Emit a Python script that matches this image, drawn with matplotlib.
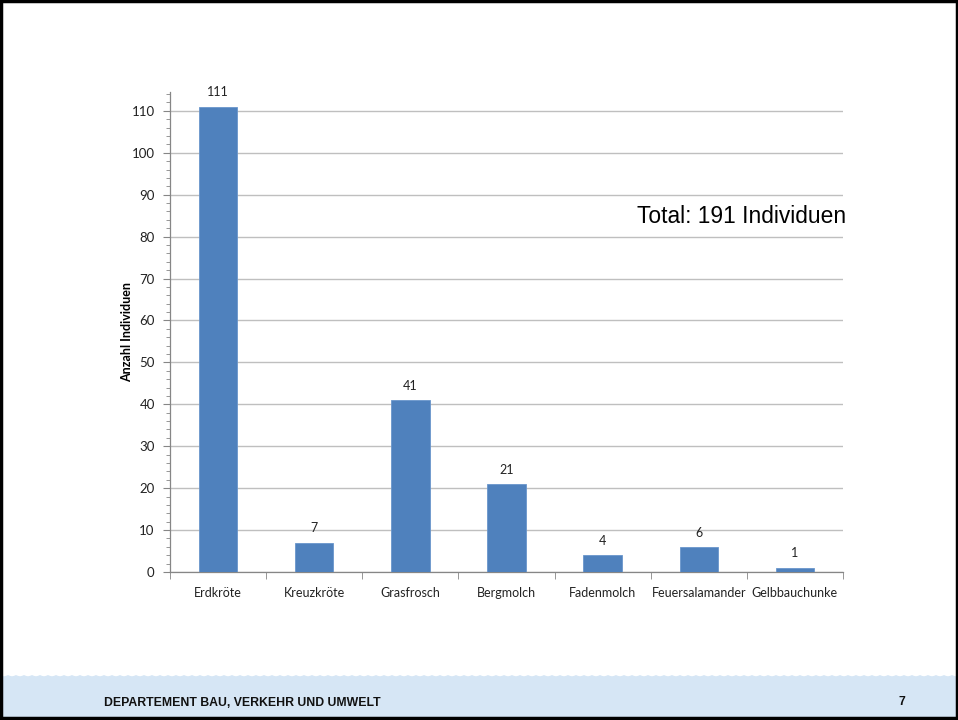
import matplotlib
matplotlib.use("Agg")
import matplotlib.pyplot as plt
import numpy as np
from matplotlib.patches import Rectangle, Polygon
from matplotlib.ticker import FixedLocator

categories = ["Erdkröte", "Kreuzkröte", "Grasfrosch", "Bergmolch",
              "Fadenmolch", "Feuersalamander", "Gelbbauchunke"]
values = [111, 7, 41, 21, 4, 6, 1]
ylabel = "Anzahl Individuen"
total_text = "Total: 191 Individuen"
footer_text = "DEPARTEMENT BAU, VERKEHR UND UMWELT"
page_no = "7"

W, H = 958, 720
fig = plt.figure(figsize=(W / 100, H / 100), dpi=100)
fig.patch.set_facecolor("white")

# footer band with scalloped top edge
bg = fig.add_axes([0, 0, 1, 1], zorder=0)
bg.set_xlim(0, W)
bg.set_ylim(H, 0)
bg.axis("off")
xs = np.linspace(0, W, 2000)
top = 675 + 1.2 * np.abs(np.sin(xs * np.pi / 8.0))
poly = np.column_stack([np.r_[xs, W, 0], np.r_[top, H, H]])
bg.add_patch(Polygon(poly, closed=True, facecolor="#d6e6f5", edgecolor="none"))
bg.add_patch(Rectangle((1, 1), W - 2, H - 3, facecolor="none",
                       edgecolor="black", linewidth=2.5))
bg.text(104, 703, footer_text, fontsize=8.8, fontweight="bold",
        family="Liberation Sans", va="center", ha="left", color="#111111")
bg.text(902, 702, page_no, fontsize=8.8, fontweight="bold",
        family="Liberation Sans", va="center", ha="center", color="#111111")

ax = fig.add_axes([170 / W, 1 - 572 / H, (843 - 170) / W, (572 - 92) / H], zorder=1)
ax.patch.set_alpha(0)
x = np.arange(len(categories))
ax.bar(x, values, width=0.4, color="#4f81bd", edgecolor="#6a96cc",
       linewidth=0.6, zorder=3)
ax.set_xlim(-0.5, len(categories) - 0.5)
ax.set_ylim(0, 114.5)
ax.yaxis.set_major_locator(FixedLocator(np.arange(0, 111, 10)))
ax.yaxis.set_minor_locator(FixedLocator(np.arange(0, 115, 2)))
ax.grid(axis="y", which="major", color="#bfbfbf", linewidth=1, zorder=0)
for s in ["top", "right"]:
    ax.spines[s].set_visible(False)
for s in ["left", "bottom"]:
    ax.spines[s].set_color("#868686")
    ax.spines[s].set_linewidth(0.9)

ax.set_xticks(x)
ax.set_xticklabels(categories, fontsize=9, family="Lato", color="#222222")
ax.xaxis.set_minor_locator(FixedLocator(np.arange(-0.5, len(categories), 1)))
ax.tick_params(axis="x", which="major", length=0, pad=11)
ax.tick_params(axis="x", which="minor", length=5, color="#868686", direction="out")
ax.tick_params(axis="y", which="major", length=5, color="#868686", labelsize=9.5,
               labelcolor="#222222", pad=6)
ax.tick_params(axis="y", which="minor", length=3, color="#868686")
for lab in ax.get_yticklabels():
    lab.set_family("Lato")

ax.set_ylabel(ylabel, fontsize=9, fontweight="bold", family="Lato", labelpad=-1)

for xi, v in zip(x, values):
    ax.annotate(str(v), (xi, v), xytext=(0, 6), textcoords="offset points",
                ha="center", va="bottom", fontsize=9, family="Lato", color="#222222")

fig.text(846 / W, 1 - 216 / H, total_text, fontsize=16.4, family="Liberation Sans",
         ha="right", va="center", color="black", zorder=5)

fig.savefig("out.png", dpi=100)
